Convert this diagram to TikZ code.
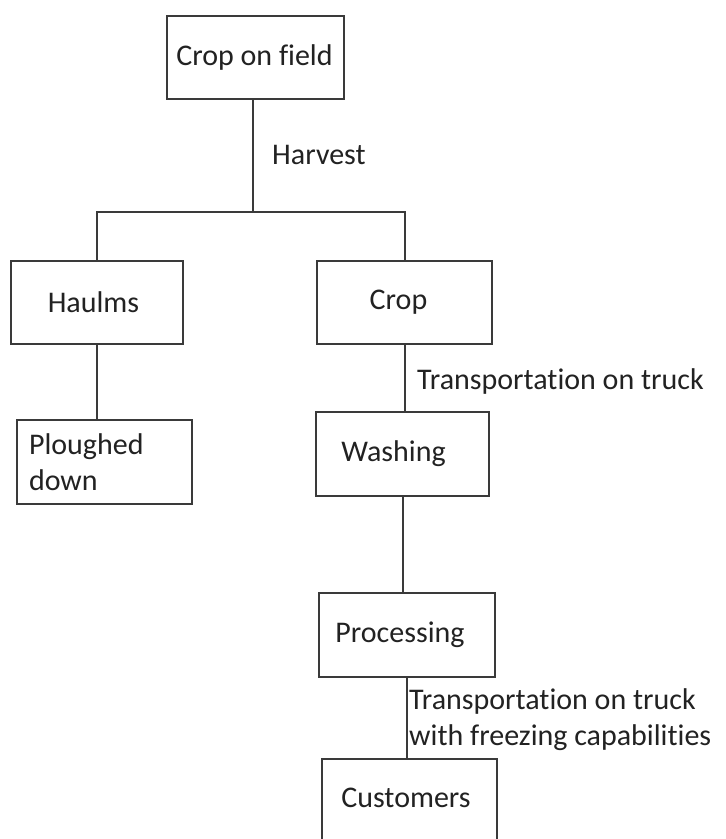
\documentclass[tikz,border=0pt]{standalone}
\usepackage{fontspec}
\setmainfont[RawFeature={-liga;-clig;-dlig;-calt}]{Carlito}
\definecolor{linec}{HTML}{3A3A3A}
\definecolor{txtc}{HTML}{222222}
\newcommand{\mysh}[3]{\raisebox{#2pt}{\kern#1pt #3}}
\begin{document}
\begin{tikzpicture}[x=1pt,y=-1pt,
  box/.style={draw=linec,line width=2pt,rectangle,inner sep=0pt,text=txtc,
    font=\fontsize{30}{36}\selectfont},
  lbl/.style={anchor=west,inner sep=0pt,text=txtc,align=left,
    font=\fontsize{30}{36}\selectfont},
  conn/.style={draw=linec,line width=2pt}]
\clip (0,0) rectangle (726,839);
\fill[white] (0,0) rectangle (726,839);
% boxes
\node[box,minimum width=177pt,minimum height=83pt] (cof) at (255.5,57.5) {\mysh{-2}{1}{Crop on field}};
\node[box,minimum width=172pt,minimum height=83pt] (ha) at (97,302.5) {\mysh{-7}{1}{Haulms}};
\node[box,minimum width=175pt,minimum height=84pt,text width=151pt,align=left] (pl) at (104.5,462) {Ploughed\\down};
\node[box,minimum width=175pt,minimum height=83pt] (cr) at (404.5,302.5) {\mysh{-12}{2}{Crop}};
\node[box,minimum width=173pt,minimum height=84pt] (wa) at (402.5,454) {\mysh{-18}{2}{Washing}};
\node[box,minimum width=176pt,minimum height=84pt] (pr) at (407,635) {\mysh{-14}{4}{Processing}};
\node[box,minimum width=175pt,minimum height=84pt] (cu) at (409.5,801) {\mysh{-7}{6}{Customers}};
% connectors
\coordinate (j) at (253,212);
\draw[conn] (cof.south -| j) -- (j);
\draw[conn] (ha.north) |- (j) -| (cr.north);
\draw[conn] (ha.south) -- (ha.south |- pl.north);
\draw[conn] (cr.south) -- (cr.south |- wa.north);
\draw[conn] (wa.south) -- (wa.south |- pr.north);
\draw[conn] (pr.south) -- (pr.south |- cu.north);
% labels
\node[lbl] (lh) at (272,155) {Harvest};
\node[lbl] (lt1) at (417,381) {Transportation on truck};
\node[lbl] (lt2) at (409,719.5) {Transportation on truck\\with freezing capabilities};
\end{tikzpicture}
\end{document}
